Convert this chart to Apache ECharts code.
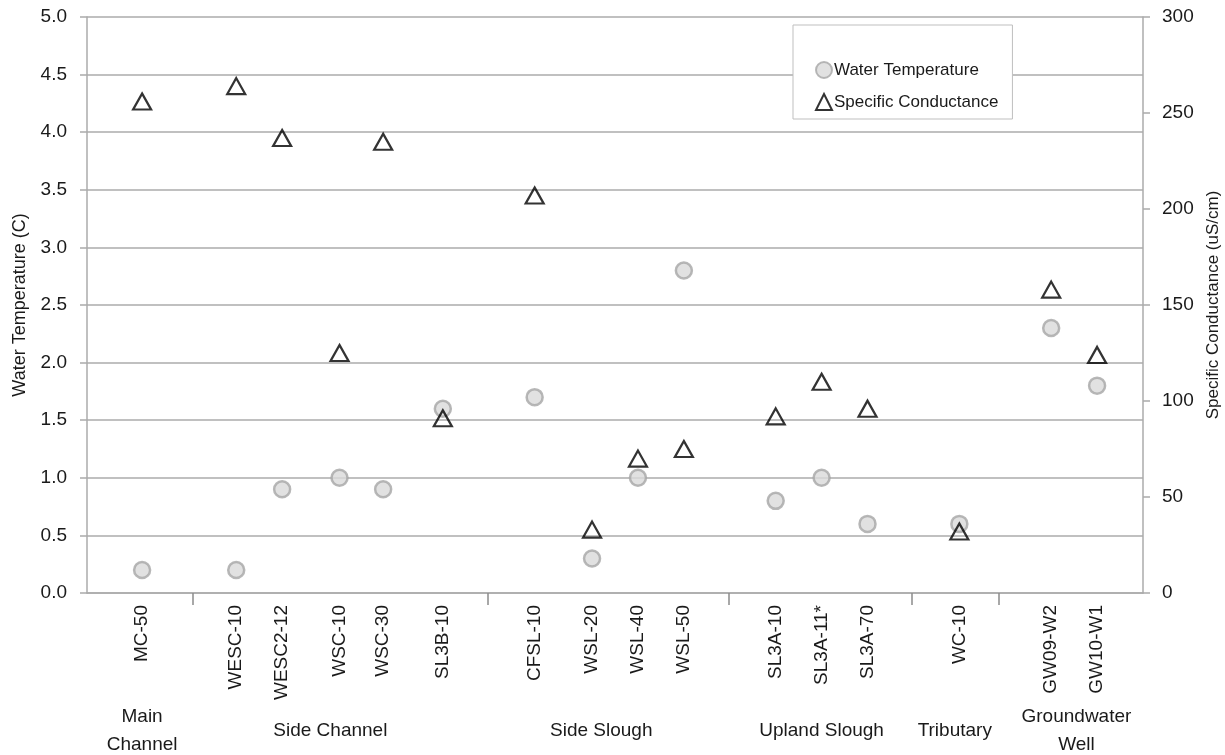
<!DOCTYPE html>
<html>
<head>
<meta charset="utf-8">
<script src="https://cdn.jsdelivr.net/npm/echarts@6.0.0/dist/echarts.min.js"></script>
<style>
  html, body { margin: 0; padding: 0; background: #ffffff; }
  #chart { width: 1225px; height: 755px; }
</style>
</head>
<body>
<div id="chart"></div>
<script>
// Sampling sites, their positions along the x axis, and the measured values
const sites = ['MC-50', 'WESC-10', 'WESC2-12', 'WSC-10', 'WSC-30', 'SL3B-10',
  'CFSL-10', 'WSL-20', 'WSL-40', 'WSL-50', 'SL3A-10', 'SL3A-11*', 'SL3A-70',
  'WC-10', 'GW09-W2', 'GW10-W1'];
const sitePos = [1.2, 3.25, 4.25, 5.5, 6.45, 7.75, 9.75, 11, 12, 13, 15, 16, 17, 19, 21, 22];
const waterTemp = [0.2, 0.2, 0.9, 1.0, 0.9, 1.6, 1.7, 0.3, 1.0, 2.8, 0.8, 1.0, 0.6, 0.6, 2.3, 1.8];
const conductance = [256, 264, 237, 125, 235, 91, 207, 33, 70, 75, 92, 110, 96, 32, 158, 124];

// Habitat groups: label centres and the dividers between them
const groupNames = ['Main\nChannel', 'Side Channel', 'Side Slough', 'Upland Slough', 'Tributary', 'Groundwater\nWell'];
const groupPos = [1.2, 5.3, 11.2, 16, 18.9, 21.55];
const groupDividers = [2.3, 8.72, 13.98, 17.97, 19.86];

const FONT = "'Liberation Sans', Arial, sans-serif";
const GRID_GREY = '#ababab';

function nameAt(values, names, v) {
  for (let i = 0; i < values.length; i++) {
    if (Math.abs(values[i] - v) < 1e-6) return names[i];
  }
  return '';
}

const chart = echarts.init(document.getElementById('chart'));

chart.setOption({
  animation: false,
  backgroundColor: '#ffffff',
  textStyle: { fontFamily: FONT, color: '#1a1a1a' },
  grid: { left: 87, right: 82, top: 17, bottom: 162, outerBoundsMode: 'none', containLabel: false },
  legend: {
    orient: 'vertical',
    left: 793,
    top: 25,
    padding: [36, 14, 8, 22],
    itemGap: 14,
    itemWidth: 16,
    itemHeight: 16,
    backgroundColor: '#ffffff',
    borderColor: '#bfbfbf',
    borderWidth: 1,
    textStyle: { fontFamily: FONT, fontSize: 17, color: '#1a1a1a', padding: [0, 0, 0, -3] },
    data: ['Water Temperature', 'Specific Conductance']
  },
  xAxis: [
    {
      type: 'value',
      min: 0,
      max: 23,
      axisLine: { show: true, onZero: false, lineStyle: { color: GRID_GREY, width: 1.5 } },
      axisTick: {
        show: true,
        customValues: groupDividers,
        length: 12,
        lineStyle: { color: '#8c8c8c', width: 1.5 }
      },
      splitLine: { show: false },
      axisLabel: {
        customValues: sitePos,
        rotate: 90,
        margin: 12,
        fontSize: 19,
        fontFamily: FONT,
        color: '#1a1a1a',
        formatter: v => nameAt(sitePos, sites, v)
      }
    },
    {
      type: 'value',
      min: 0,
      max: 23,
      position: 'bottom',
      offset: 130,
      axisLine: { show: false, onZero: false },
      axisTick: { show: false },
      splitLine: { show: false },
      axisLabel: {
        customValues: groupPos,
        margin: 8,
        fontSize: 19,
        lineHeight: 28,
        fontFamily: FONT,
        color: '#1a1a1a',
        verticalAlign: 'middle',
        formatter: v => nameAt(groupPos, groupNames, v)
      }
    }
  ],
  yAxis: [
    {
      type: 'value',
      min: 0,
      max: 5,
      interval: 0.5,
      name: 'Water Temperature (C)',
      nameLocation: 'middle',
      nameGap: 58,
      nameTextStyle: { fontFamily: FONT, fontSize: 18, color: '#1a1a1a' },
      axisLine: { show: true, onZero: false, lineStyle: { color: GRID_GREY, width: 1.5 } },
      axisTick: { show: true, inside: false, length: 7, lineStyle: { color: GRID_GREY, width: 1.5 } },
      splitLine: { show: true, lineStyle: { color: GRID_GREY, width: 1.5 } },
      axisLabel: {
        margin: 20,
        fontSize: 19,
        fontFamily: FONT,
        color: '#1a1a1a',
        formatter: v => v.toFixed(1)
      }
    },
    {
      type: 'value',
      min: 0,
      max: 300,
      interval: 50,
      position: 'right',
      name: 'Specific Conductance (uS/cm)',
      nameLocation: 'middle',
      nameGap: 62,
      nameRotate: 90,
      nameTextStyle: { fontFamily: FONT, fontSize: 17, color: '#1a1a1a' },
      axisLine: { show: true, onZero: false, lineStyle: { color: GRID_GREY, width: 1.5 } },
      axisTick: { show: true, inside: false, length: 7, lineStyle: { color: GRID_GREY, width: 1.5 } },
      splitLine: { show: false },
      axisLabel: {
        margin: 19,
        fontSize: 19,
        fontFamily: FONT,
        color: '#1a1a1a'
      }
    }
  ],
  series: [
    {
      name: 'Water Temperature',
      type: 'scatter',
      xAxisIndex: 0,
      yAxisIndex: 0,
      symbol: 'circle',
      symbolSize: 16,
      itemStyle: { color: '#d9d9d9', borderColor: '#a6a6a6', borderWidth: 2.5 },
      data: sitePos.map((x, i) => [x, waterTemp[i]]),
      z: 2
    },
    {
      name: 'Specific Conductance',
      type: 'scatter',
      xAxisIndex: 0,
      yAxisIndex: 1,
      symbol: 'triangle',
      symbolSize: [18, 16],
      itemStyle: { color: 'rgba(255,255,255,0)', borderColor: '#000000', borderWidth: 2.2 },
      data: sitePos.map((x, i) => [x, conductance[i]]),
      z: 3
    }
  ]
});
</script>
</body>
</html>
